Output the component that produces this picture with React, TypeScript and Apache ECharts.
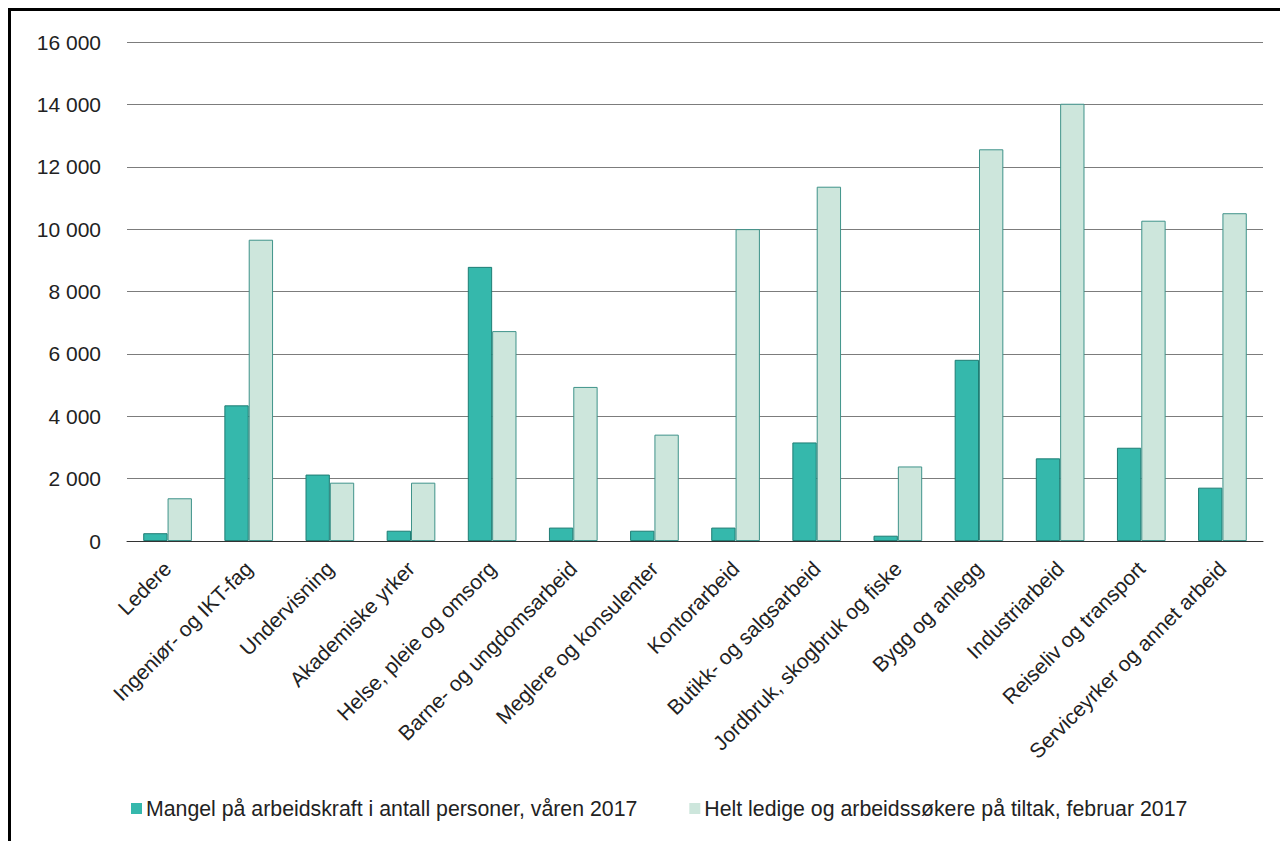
import React, { useEffect, useRef } from "react";
import * as echarts from "echarts";

const categories = [
  "Ledere",
  "Ingeniør- og IKT-fag",
  "Undervisning",
  "Akademiske yrker",
  "Helse, pleie og omsorg",
  "Barne- og ungdomsarbeid",
  "Meglere og konsulenter",
  "Kontorarbeid",
  "Butikk- og salgsarbeid",
  "Jordbruk, skogbruk og fiske",
  "Bygg og anlegg",
  "Industriarbeid",
  "Reiseliv og transport",
  "Serviceyrker og annet arbeid",
];

const mangel = [250, 4350, 2130, 330, 8790, 430, 330, 430, 3160, 170, 5810, 2650, 2990, 1710];
const ledige = [1370, 9660, 1870, 1870, 6730, 4940, 3410, 10000, 11360, 2390, 12560, 14020, 10270, 10510];

const seriesNames = [
  "Mangel på arbeidskraft i antall personer, våren 2017",
  "Helt ledige og arbeidssøkere på tiltak, februar 2017",
];

const yMin = 0;
const yMax = 16000;
const yInterval = 2000;

const FONT = "'Liberation Sans', Arial, Helvetica, sans-serif";

export default function App() {
  const ref = useRef<HTMLDivElement>(null);

  useEffect(() => {
    document.documentElement.style.overflow = "hidden";
    document.body.style.overflow = "hidden";
    if (!ref.current) return;
    const chart = echarts.init(ref.current, null, { renderer: "svg" });
    chart.setOption({
      animation: false,
      backgroundColor: "#ffffff",
      textStyle: { fontFamily: FONT, color: "#222" },
      grid: { left: 127, right: 17, top: 42, bottom: 300, containLabel: false },
      legend: {
        left: 131,
        top: 798,
        padding: 0,
        itemWidth: 11,
        itemHeight: 11,
        itemGap: 52,
        icon: "rect",
        itemStyle: { borderWidth: 0 },
        textStyle: { fontSize: 21.3, color: "#222", fontFamily: FONT, padding: [0, 0, 0, -1] },
        data: seriesNames,
      },
      xAxis: {
        type: "category",
        data: categories,
        axisLine: { show: true, lineStyle: { color: "#333", width: 1 } },
        axisTick: { show: false },
        axisLabel: {
          rotate: 45,
          interval: 0,
          margin: 24,
          fontSize: 21,
          color: "#222",
          fontFamily: FONT,
        },
      },
      yAxis: {
        type: "value",
        min: yMin,
        max: yMax,
        interval: yInterval,
        axisLine: { show: false },
        axisTick: { show: false },
        splitLine: { lineStyle: { color: "#7c7c7c", width: 1 } },
        axisLabel: {
          margin: 26,
          fontSize: 21,
          color: "#222",
          fontFamily: FONT,
          formatter: (v: number) => {
            const s = String(v);
            return s.replace(/\B(?=(\d{3})+(?!\d))/g, " ");
          },
        },
      },
      series: [
        {
          name: seriesNames[0],
          type: "bar",
          data: mangel,
          barGap: "0%",
          barCategoryGap: "40%",
          itemStyle: { color: "#35b8ac", borderColor: "#1f7d74", borderWidth: 1 },
        },
        {
          name: seriesNames[1],
          type: "bar",
          data: ledige,
          barGap: "0%",
          barCategoryGap: "40%",
          itemStyle: { color: "#cde6dc", borderColor: "#3f938a", borderWidth: 1 },
        },
      ],
    });
    return () => chart.dispose();
  }, []);

  return (
    <>
      <div
        ref={ref}
        style={{ position: "fixed", left: 0, top: 0, width: 1280, height: 841 }}
      />
      <div
        style={{
          position: "fixed",
          left: 8,
          top: 8,
          width: 1272,
          height: 833,
          boxSizing: "border-box",
          borderLeft: "3px solid #000",
          borderTop: "3px solid #000",
          pointerEvents: "none",
        }}
      />
    </>
  );
}
